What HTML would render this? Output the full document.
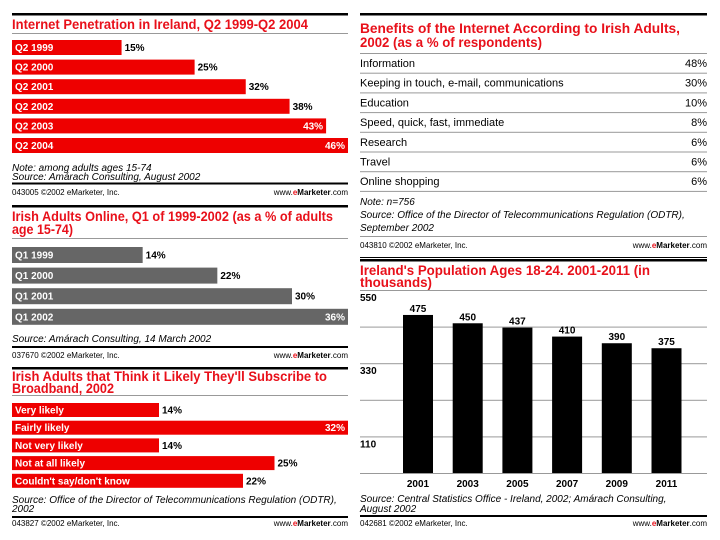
<!DOCTYPE html>
<html><head><meta charset="utf-8"><style>
html,body{margin:0;padding:0;background:#fff;}
svg{display:block;font-family:"Liberation Sans",Arial,sans-serif;}
.t{fill:#e8101a;font-weight:bold;font-size:13.5px;}
.bl{fill:#fff;font-weight:bold;font-size:10px;}
.vl{fill:#000;font-weight:bold;font-size:10px;}
.src{fill:#000;font-style:italic;font-size:10px;}
.ft{fill:#000;font-size:8px;}
.row{fill:#000;font-size:11px;}
</style></head><body>
<svg id="svg" width="720" height="540" viewBox="0 0 720 540">
<g>
 <rect x="12" y="13" width="336" height="2.5" fill="#000"/>
 <text class="t" x="12" y="29" textLength="296" lengthAdjust="spacingAndGlyphs">Internet Penetration in Ireland, Q2 1999-Q2 2004</text>
 <rect x="12" y="33" width="336" height="1" fill="#999"/>
 <g id="p1"></g>
 <text class="src" x="12" y="171">Note: among adults ages 15-74</text>
 <text class="src" x="12" y="180">Source: Amárach Consulting, August 2002</text>
 <rect x="12" y="182.5" width="336" height="2" fill="#000"/>
 <text class="ft" x="12" y="195">043005 ©2002 eMarketer, Inc.</text>
 <text class="ft" x="348" y="195" text-anchor="end">www.<tspan fill="#e8101a" font-weight="bold">e</tspan><tspan font-weight="bold">Marketer</tspan>.com</text>
</g>
<g>
 <rect x="12" y="205" width="336" height="2.5" fill="#000"/>
 <text class="t" x="12" y="221" textLength="321" lengthAdjust="spacingAndGlyphs">Irish Adults Online, Q1 of 1999-2002 (as a % of adults</text>
 <text class="t" x="12" y="234" textLength="61" lengthAdjust="spacingAndGlyphs">age 15-74)</text>
 <rect x="12" y="238" width="336" height="1" fill="#999"/>
 <g id="p2"></g>
 <text class="src" x="12" y="342">Source: Amárach Consulting, 14 March 2002</text>
 <rect x="12" y="346" width="336" height="2" fill="#000"/>
 <text class="ft" x="12" y="358">037670 ©2002 eMarketer, Inc.</text>
 <text class="ft" x="348" y="358" text-anchor="end">www.<tspan fill="#e8101a" font-weight="bold">e</tspan><tspan font-weight="bold">Marketer</tspan>.com</text>
</g>
<g>
 <rect x="12" y="367" width="336" height="2.5" fill="#000"/>
 <text class="t" x="12" y="381" textLength="315" lengthAdjust="spacingAndGlyphs">Irish Adults that Think it Likely They'll Subscribe to</text>
 <text class="t" x="12" y="393" textLength="102" lengthAdjust="spacingAndGlyphs">Broadband, 2002</text>
 <rect x="12" y="395" width="336" height="1" fill="#999"/>
 <g id="p3"></g>
 <text class="src" x="12" y="503">Source: Office of the Director of Telecommunications Regulation (ODTR),</text>
 <text class="src" x="12" y="512">2002</text>
 <rect x="12" y="516" width="336" height="2" fill="#000"/>
 <text class="ft" x="12" y="526">043827 ©2002 eMarketer, Inc.</text>
 <text class="ft" x="348" y="526" text-anchor="end">www.<tspan fill="#e8101a" font-weight="bold">e</tspan><tspan font-weight="bold">Marketer</tspan>.com</text>
</g>
<g>
 <rect x="360" y="13" width="347" height="2.5" fill="#000"/>
 <text class="t" x="360" y="33" textLength="320" lengthAdjust="spacingAndGlyphs">Benefits of the Internet According to Irish Adults,</text>
 <text class="t" x="360" y="47" textLength="182" lengthAdjust="spacingAndGlyphs">2002 (as a % of respondents)</text>
 <g id="tbl"></g>
 <text class="src" x="360" y="205">Note: n=756</text>
 <text class="src" x="360" y="218">Source: Office of the Director of Telecommunications Regulation (ODTR),</text>
 <text class="src" x="360" y="231">September 2002</text>
 <rect x="360" y="236" width="347" height="1" fill="#999"/>
 <text class="ft" x="360" y="248">043810 ©2002 eMarketer, Inc.</text>
 <text class="ft" x="707" y="248" text-anchor="end">www.<tspan fill="#e8101a" font-weight="bold">e</tspan><tspan font-weight="bold">Marketer</tspan>.com</text>
 <rect x="360" y="257" width="347" height="1" fill="#000"/>
</g>
<g>
 <rect x="360" y="259" width="347" height="2.5" fill="#000"/>
 <text class="t" x="360" y="275" textLength="290" lengthAdjust="spacingAndGlyphs">Ireland's Population Ages 18-24. 2001-2011 (in</text>
 <text class="t" x="360" y="287" textLength="72" lengthAdjust="spacingAndGlyphs">thousands)</text>
 <g id="p4"></g>
 <text class="src" x="360" y="502">Source: Central Statistics Office - Ireland, 2002; Amárach Consulting,</text>
 <text class="src" x="360" y="512">August 2002</text>
 <rect x="360" y="515" width="347" height="2" fill="#000"/>
 <text class="ft" x="360" y="526">042681 ©2002 eMarketer, Inc.</text>
 <text class="ft" x="707" y="526" text-anchor="end">www.<tspan fill="#e8101a" font-weight="bold">e</tspan><tspan font-weight="bold">Marketer</tspan>.com</text>
</g>
</svg>
<script>
const penCats=["Q2 1999","Q2 2000","Q2 2001","Q2 2002","Q2 2003","Q2 2004"];
const penVals=[15,25,32,38,43,46];
const onlineCats=["Q1 1999","Q1 2000","Q1 2001","Q1 2002"];
const onlineVals=[14,22,30,36];
const bbCats=["Very likely","Fairly likely","Not very likely","Not at all likely","Couldn't say/don't know"];
const bbVals=[14,32,14,25,22];
const benCats=["Information","Keeping in touch,  e-mail, communications","Education","Speed, quick, fast, immediate","Research","Travel","Online shopping"];
const benVals=[48,30,10,8,6,6,6];
const popYears=["2001","2003","2005","2007","2009","2011"];
const popVals=[475,450,437,410,390,375];
const popTicks=[550,330,110];
const popGrid=[110,220,330,440,550];

const NS="http://www.w3.org/2000/svg";
function mk(parent,tag,attrs,txt){const e=document.createElementNS(NS,tag);for(const k in attrs)e.setAttribute(k,attrs[k]);if(txt!==undefined)e.textContent=txt;parent.appendChild(e);return e;}

function hbars(gid,cats,vals,y0,step,h,color,maxV,prefix){
  const g=document.getElementById(gid);
  const x0=12,W=336;
  const xs=v=>W*v/maxV;
  cats.forEach((c,i)=>{
    const y=y0+i*step,w=xs(vals[i]);
    const r=mk(g,"rect",{x:x0,y:y,width:w,height:h,fill:color});
    
    
    const t=mk(g,"text",{class:"bl",x:x0+3,y:y+h/2+3.5},c);
    
    
    const inside=w>W-30;
    const v=mk(g,"text",{class:inside?"bl":"vl",x:inside?x0+w-3:x0+w+3,y:y+h/2+3.5,"text-anchor":inside?"end":"start"},vals[i]+"%");
    
    
  });
}
hbars("p1",penCats,penVals,40,19.6,15,"#ee0000",Math.max(...penVals),"penetration");
hbars("p2",onlineCats,onlineVals,247,20.6,16,"#666666",Math.max(...onlineVals),"online");
hbars("p3",bbCats,bbVals,403,17.7,14,"#ee0000",Math.max(...bbVals),"broadband");

(function(){
  const g=document.getElementById("tbl");
  const y0=53,step=19.7;
  mk(g,"rect",{x:360,y:y0,width:347,height:1,fill:"#999"});
  benCats.forEach((c,i)=>{
    const y=y0+i*step;
    const a=mk(g,"text",{class:"row",x:360,y:y+14},c);
    
    
    const b=mk(g,"text",{class:"row",x:707,y:y+14,"text-anchor":"end"},benVals[i]+"%");
    
    
    const l=mk(g,"rect",{x:360,y:y+step,width:347,height:1,fill:"#999"});
    
    
  });
})();

(function(){
  const g=document.getElementById("p4");
  const yBase=473,yTop=290,maxV=550;
  const ys=v=>yBase-(yBase-yTop)*v/maxV;
  popGrid.forEach((v,i)=>{
    const l=mk(g,"rect",{x:360,y:ys(v),width:347,height:1,fill:"#999"});
    
    
  });
  mk(g,"rect",{x:360,y:yBase,width:347,height:1,fill:"#999"});
  popTicks.forEach((v,i)=>{
    const t=mk(g,"text",{class:"vl",x:360,y:ys(v)+11},String(v));
    
    
  });
  const cx0=418,step=49.7,bw=30;
  popYears.forEach((yr,i)=>{
    const cx=cx0+i*step,top=ys(popVals[i]);
    const r=mk(g,"rect",{x:cx-bw/2,y:top,width:bw,height:yBase-top,fill:"#000"});
    
    
    const v=mk(g,"text",{class:"vl",x:cx,y:top-3,"text-anchor":"middle"},String(popVals[i]));
    
    
    const x=mk(g,"text",{class:"vl",x:cx,y:487,"text-anchor":"middle"},yr);
    
    
  });
})();
</script>
</body></html>
